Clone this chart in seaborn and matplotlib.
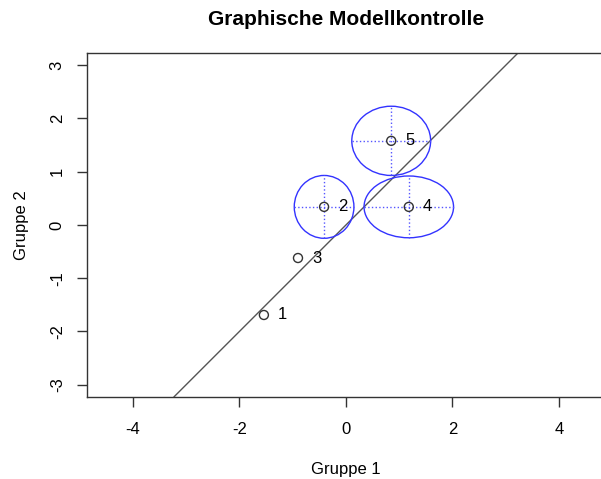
import numpy as np
import pandas as pd
import matplotlib.pyplot as plt
import seaborn as sns
from matplotlib.patches import Ellipse

# Punkte (Gruppe 1, Gruppe 2)
labels = ['1', '2', '3', '4', '5']
gruppe1 = [-1.54, -0.41, -0.90, 1.18, 0.85]
gruppe2 = [-1.69, 0.34, -0.62, 0.34, 1.58]

# Ellipsen um Punkte 2, 4, 5 (Halbachsen)
ell_idx = [1, 3, 4]
ell_rx = [0.56, 0.84, 0.74]
ell_ry = [0.59, 0.58, 0.65]

x_ticks = [-4, -2, 0, 2, 4]
y_ticks = [-3, -2, -1, 0, 1, 2, 3]

df = pd.DataFrame({'Gruppe 1': gruppe1, 'Gruppe 2': gruppe2, 'label': labels})

sns.set_theme(style="white")
plt.rcParams['font.family'] = ['Liberation Sans', 'DejaVu Sans']
plt.rcParams['axes.unicode_minus'] = False
plt.rcParams['text.color'] = 'black'
plt.rcParams['axes.labelcolor'] = 'black'
plt.rcParams['xtick.color'] = 'black'
plt.rcParams['ytick.color'] = 'black'

fig = plt.figure(figsize=(6.01, 4.79), dpi=100)
ax = fig.add_axes([0.1448, 0.1712, 0.8616, 0.7182])

# Winkelhalbierende
ax.axline((0, 0), slope=1, color='#555555', lw=1, zorder=1)

# Ellipsen mit gepunkteten Achsen
for i, rx, ry in zip(ell_idx, ell_rx, ell_ry):
    cx, cy = gruppe1[i], gruppe2[i]
    ax.add_patch(Ellipse((cx, cy), 2 * rx, 2 * ry, fill=False,
                         edgecolor='#3333ff', lw=1, zorder=2))
    ax.plot([cx - rx, cx + rx], [cy, cy], ls=':', color='#5555ff', lw=1, zorder=2)
    ax.plot([cx, cx], [cy - ry, cy + ry], ls=':', color='#5555ff', lw=1, zorder=2)

sns.scatterplot(data=df, x='Gruppe 1', y='Gruppe 2', ax=ax, marker='o', s=42,
                facecolor='none', edgecolor='#333333', linewidth=1, zorder=3)

for _, r in df.iterrows():
    ax.annotate(r['label'], (r['Gruppe 1'], r['Gruppe 2']), xytext=(10, 0),
                textcoords='offset points', va='center', ha='left', fontsize=12)

ax.set_xlim(-4.86, 4.86)
ax.set_ylim(-3.23, 3.23)
ax.set_xticks(x_ticks)
ax.set_yticks(y_ticks)
ax.tick_params(axis='both', direction='out', length=7, width=1, color='#333333',
               labelsize=12, labelcolor='black', bottom=True, left=True)
ax.tick_params(axis='x', pad=11)
ax.tick_params(axis='y', labelrotation=90, pad=9)
for lbl in ax.get_yticklabels():
    lbl.set_va('center')
for sp in ax.spines.values():
    sp.set_color('#333333')
    sp.set_linewidth(1)

ax.set_xlabel('Gruppe 1', fontsize=12, labelpad=18)
ax.set_ylabel('Gruppe 2', fontsize=12, labelpad=15)
ax.set_title('Graphische Modellkontrolle', fontsize=15, fontweight='bold', pad=20)

fig.savefig('out.png', dpi=100)
